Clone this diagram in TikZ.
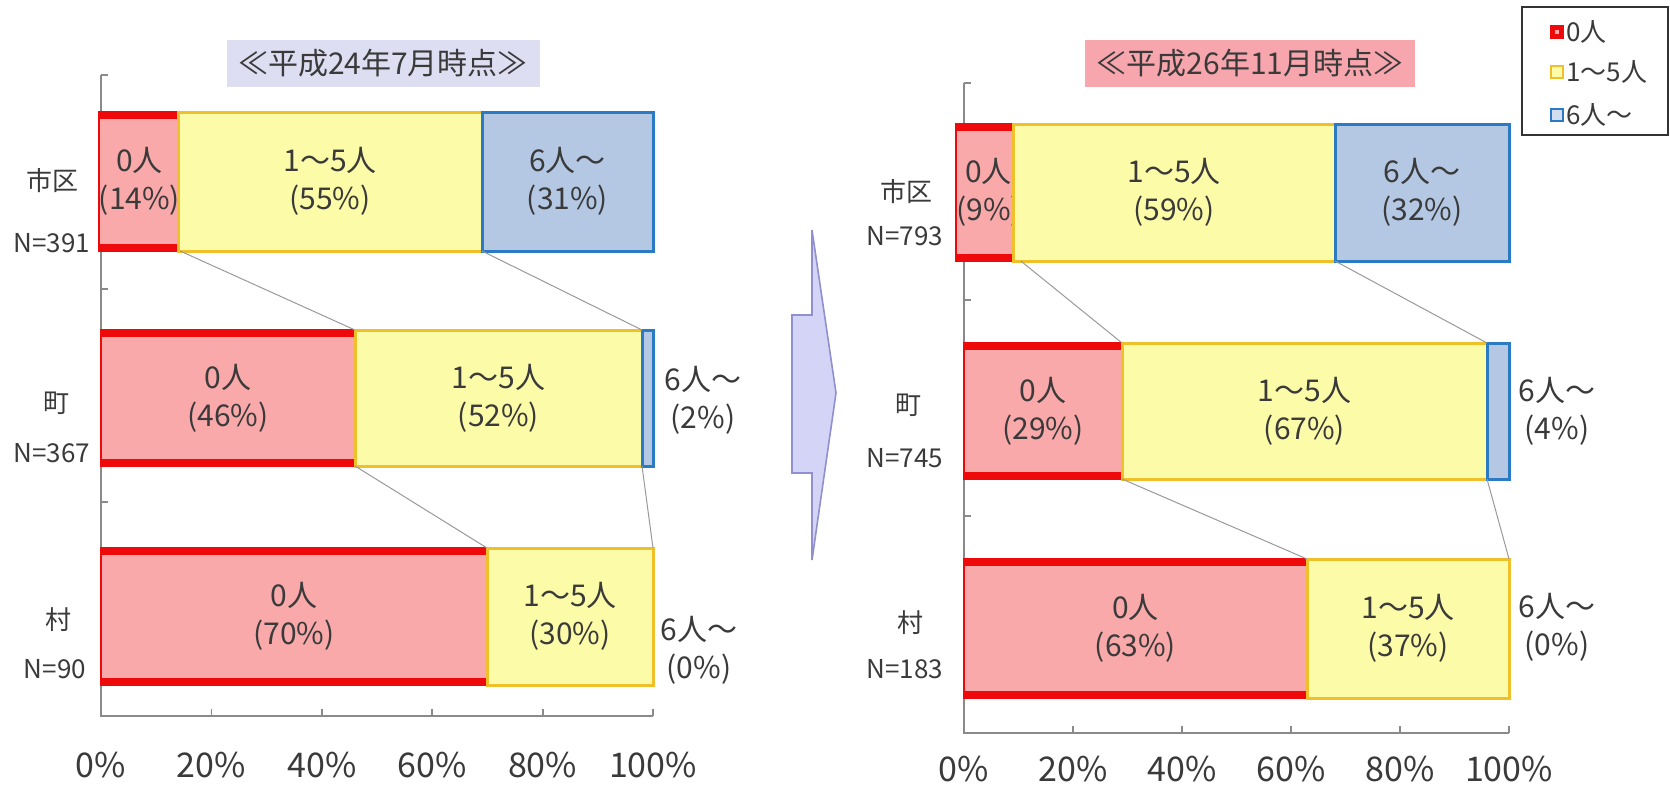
\documentclass[tikz,border=0pt]{standalone}
\usepackage{fontspec}
\setmainfont{Noto Sans CJK JP}
\definecolor{txt}{HTML}{3A3A3A}
\definecolor{pinkf}{HTML}{F9A9AA}
\definecolor{redb}{HTML}{EE0A0A}
\definecolor{yelf}{HTML}{FBFBA8}
\definecolor{yelb}{HTML}{F0C02A}
\definecolor{bluf}{HTML}{B4C8E4}
\definecolor{blub}{HTML}{2A7BC4}
\definecolor{axisc}{HTML}{8A8A8A}
\definecolor{titleL}{HTML}{DEDEF2}
\definecolor{titleR}{HTML}{F6A6AC}
\definecolor{arrf}{HTML}{D4D4F6}
\definecolor{arrb}{HTML}{9090D0}
\newcommand\barseg[7]{%
  \node[#2, minimum width={(#4-#3)*0.5pt}, minimum height={(#6-#5)*0.5pt}] (#1) at ({(#3+#4)/2},{(#5+#6)/2}) {#7};}
\begin{document}
\begin{tikzpicture}[x=0.5pt,y=-0.5pt,
  base/.style={inner sep=0pt, outer sep=0pt, align=center, text=txt, font=\fontsize{15}{19}\selectfont},
  zero/.style={base, fill=pinkf, draw=redb, line width=1.2pt,
    path picture={\draw[redb,line width=7pt] (path picture bounding box.north west) -- (path picture bounding box.north east)
      (path picture bounding box.south west) -- (path picture bounding box.south east);}},
  one/.style={base, fill=yelf, draw=yelb, line width=1.5pt},
  six/.style={base, fill=bluf, draw=blub, line width=1.5pt},
  conn/.style={draw=gray!80, line width=0.5pt},
  axisl/.style={draw=axisc, line width=0.9pt},
  lbl/.style={align=center, text=txt, font=\fontsize{15}{19}\selectfont, inner sep=0pt},
  cat/.style={align=center, text=txt, font=\fontsize{13}{16}\selectfont, inner sep=0pt},
  tick/.style={text=txt, font=\fontsize{17}{20}\selectfont, inner sep=0pt},
  leg/.style={anchor=west, text=txt, font=\fontsize{13}{16}\selectfont, inner sep=0pt},
  title/.style={text=txt, font=\fontsize{15}{18}\selectfont, inner sep=0pt, outer sep=0pt}]
\useasboundingbox (0,0) rectangle (1670,787);

% ---------- titles ----------
\node[title, fill=titleL, minimum width={313*0.5pt}, minimum height={47*0.5pt}] (tL) at (383,63) {≪平成24年7月時点≫};
\node[title, fill=titleR, minimum width={330*0.5pt}, minimum height={47*0.5pt}] (tR) at (1250,63) {≪平成26年11月時点≫};

% ---------- left chart axes ----------
\draw[axisl] (101,75) -- (101,716) -- (653,716);
\foreach \yy in {75,289,502} \draw[axisl] (101,\yy) -- (108,\yy);
\foreach \k in {0,...,5} {
  \draw[axisl] ({101+\k*110.4},716) -- ({101+\k*110.4},709);
  \pgfmathtruncatemacro\pc{\k*20}
  \node[tick] (lt\k) at ({101+\k*110.4},765) {\pc\%};
}

% ---------- left bars ----------
\barseg{La1}{zero}{101}{178}{112}{251}{0人\\(14\%)}
\barseg{La2}{one}{178}{482}{112}{251}{1～5人\\(55\%)}
\barseg{La3}{six}{482}{653}{112}{251}{6人～\\(31\%)}
\barseg{Lb1}{zero}{101}{355}{330}{466}{0人\\(46\%)}
\barseg{Lb2}{one}{355}{642}{330}{466}{1～5人\\(52\%)}
\barseg{Lb3}{six}{642}{653}{330}{466}{}
\barseg{Lc1}{zero}{101}{487}{548}{685}{0人\\(70\%)}
\barseg{Lc2}{one}{487}{653}{548}{685}{1～5人\\(30\%)}
\node[lbl] (Lb3t) at (703,400) {6人～\\(2\%)};
\node[lbl] (Lc3t) at (699,650) {6人～\\(0\%)};

\draw[conn] (La1.south east) -- (Lb1.north east);
\draw[conn] (La2.south east) -- (Lb2.north east);
\draw[conn] (Lb1.south east) -- (Lc1.north east);
\draw[conn] (Lb2.south east) -- (Lc2.north east);

\node[cat] (Lc1n) at (52,181) {市区};
\node[cat] (Lc1N) at (52,243) {N=391};
\node[cat] (Lc2n) at (56,403) {町};
\node[cat] (Lc2N) at (52,453) {N=367};
\node[cat] (Lc3n) at (58,620) {村};
\node[cat] (Lc3N) at (55,669) {N=90};

% ---------- arrow ----------
\draw[fill=arrf, draw=arrb, line width=0.8pt] (792,315) coordinate (ar1) -- (812,315) -- (812,230) -- (836,393) -- (812,560) -- (812,473) -- (792,473) -- cycle;

% ---------- right chart axes ----------
\draw[axisl] (964,83) -- (964,733) -- (1509,733);
\foreach \yy in {83,300,516} \draw[axisl] (964,\yy) -- (971,\yy);
\foreach \k in {0,...,5} {
  \draw[axisl] ({964+\k*109},733) -- ({964+\k*109},726);
  \pgfmathtruncatemacro\pc{\k*20}
  \node[tick] (rt\k) at ({964+\k*109},769) {\pc\%};
}

% ---------- right bars ----------
\barseg{Ra1}{zero}{964}{1013}{124}{261}{0人\\(9\%)}
\barseg{Ra2}{one}{1013}{1335}{124}{261}{1～5人\\(59\%)}
\barseg{Ra3}{six}{1335}{1509}{124}{261}{6人～\\(32\%)}
\barseg{Rb1}{zero}{964}{1122}{343}{479}{0人\\(29\%)}
\barseg{Rb2}{one}{1122}{1487}{343}{479}{1～5人\\(67\%)}
\barseg{Rb3}{six}{1487}{1509}{343}{479}{}
\barseg{Rc1}{zero}{964}{1307}{559}{698}{0人\\(63\%)}
\barseg{Rc2}{one}{1307}{1509}{559}{698}{1～5人\\(37\%)}
\node[lbl] (Rb3t) at (1557,411) {6人～\\(4\%)};
\node[lbl] (Rc3t) at (1557,627) {6人～\\(0\%)};

\draw[conn] (Ra1.south east) -- (Rb1.north east);
\draw[conn] (Ra2.south east) -- (Rb2.north east);
\draw[conn] (Rb1.south east) -- (Rc1.north east);
\draw[conn] (Rb2.south east) -- (Rc2.north east);

\node[cat] (Rc1n) at (906,192) {市区};
\node[cat] (Rc1N) at (905,236) {N=793};
\node[cat] (Rc2n) at (908,405) {町};
\node[cat] (Rc2N) at (905,458) {N=745};
\node[cat] (Rc3n) at (910,623) {村};
\node[cat] (Rc3N) at (905,669) {N=183};

% ---------- legend ----------
\node[draw=black!80, line width=0.9pt, minimum width={146*0.5pt}, minimum height={128*0.5pt}, inner sep=0pt] (legbox) at (1595,71) {};
\node[fill=redb, draw=redb, minimum size=6pt, inner sep=0pt, line width=0.6pt] (lg0) at (1557,32) {};
\node[fill=pinkf, minimum size=2pt, inner sep=0pt] (lg0c) at (lg0) {};
\node[fill=yelf, draw=yelb, minimum size=6pt, inner sep=0pt, line width=1pt] (lg1) at (1557,72) {};
\node[fill=bluf!60, draw=blub, minimum size=6pt, inner sep=0pt, line width=1pt] (lg2) at (1557,115) {};
\node[leg] (lgt0) at (1566,32) {0人};
\node[leg] (lgt1) at (1566,72) {1～5人};
\node[leg] (lgt2) at (1566,115) {6人～};
\end{tikzpicture}
\end{document}
